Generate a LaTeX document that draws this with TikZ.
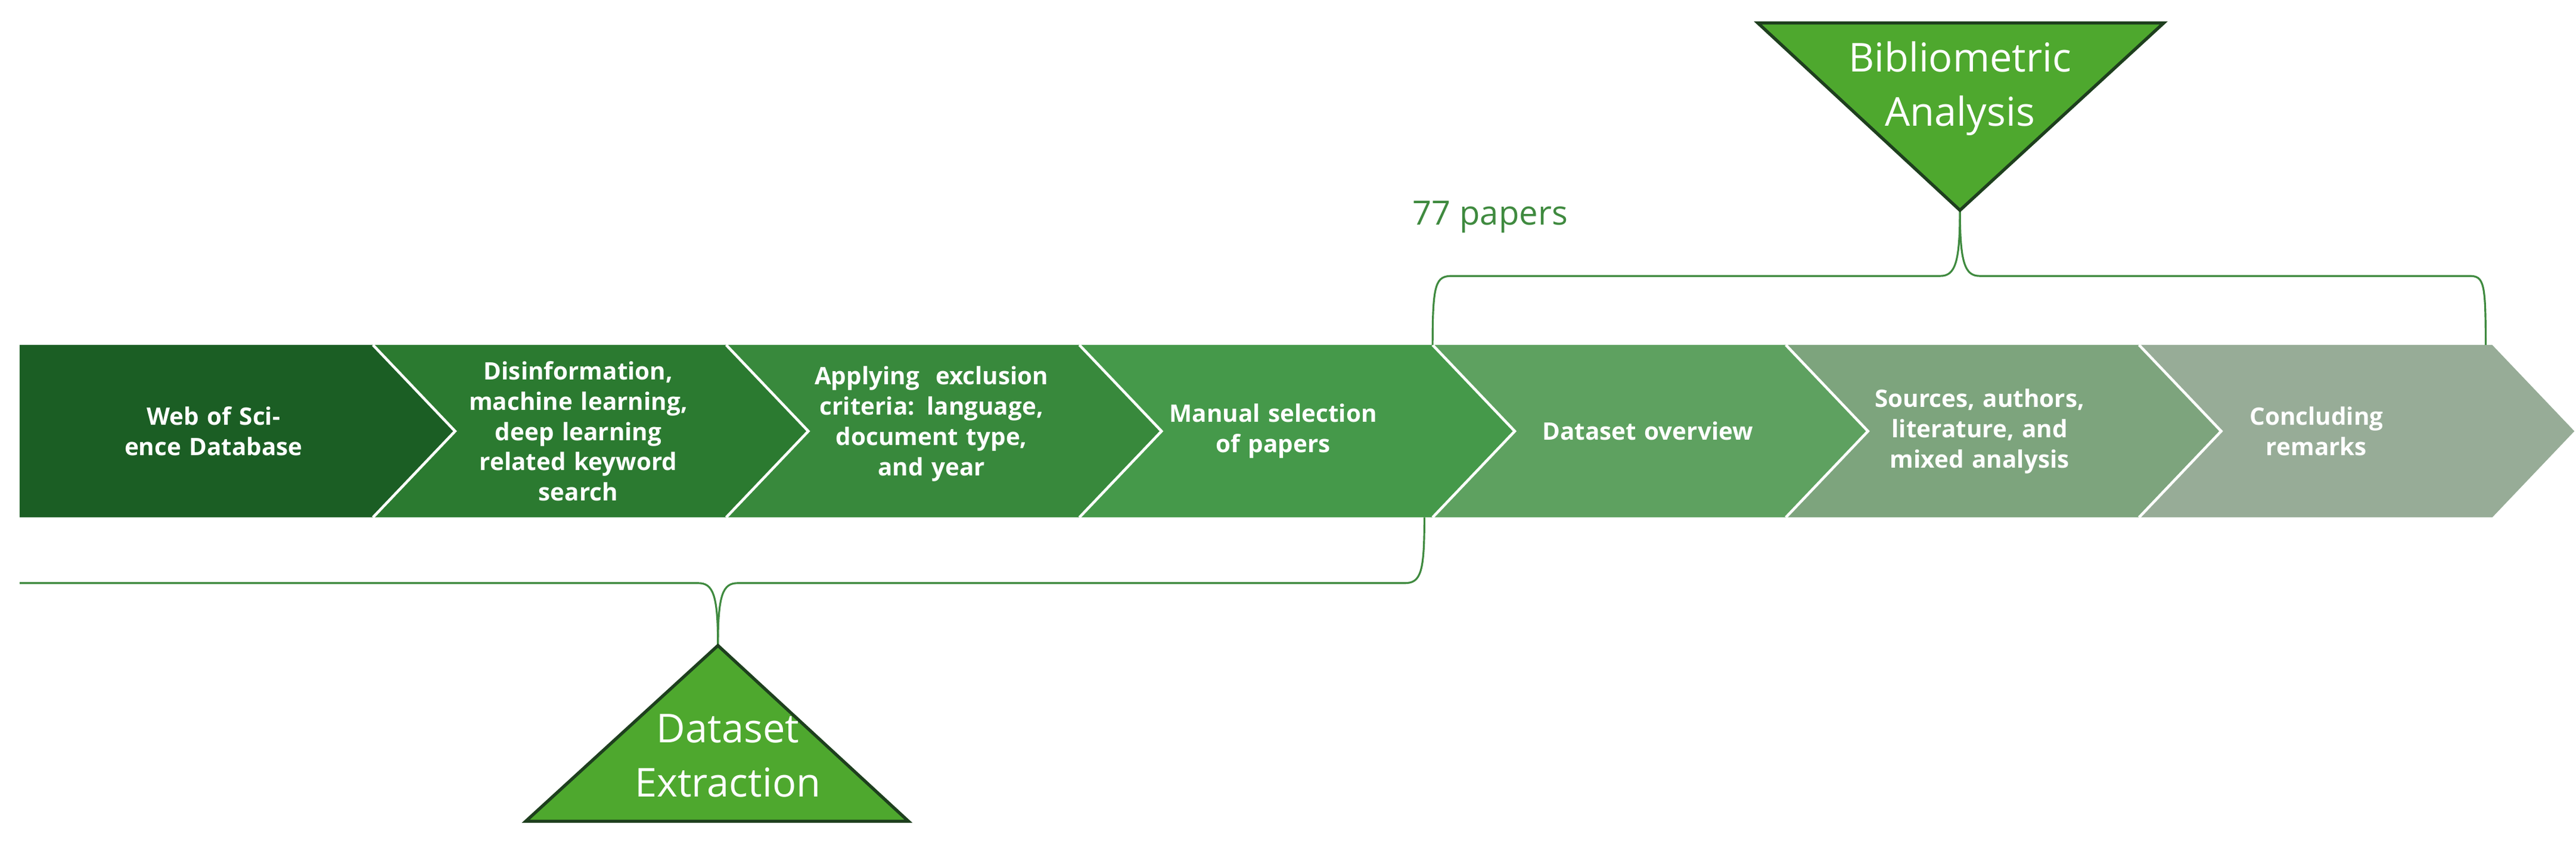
\documentclass[tikz,border=0pt]{standalone}
\usepackage{fontspec}
\setmainfont{Open Sans}
\definecolor{stepA}{HTML}{1B5E24}
\definecolor{stepB}{HTML}{2B7A30}
\definecolor{stepC}{HTML}{38893C}
\definecolor{stepD}{HTML}{45994A}
\definecolor{stepE}{HTML}{5EA160}
\definecolor{stepF}{HTML}{7DA47D}
\definecolor{stepG}{HTML}{97AC97}
\definecolor{triFill}{HTML}{4EA82E}
\definecolor{triLine}{HTML}{1E3F1E}
\definecolor{braceCol}{HTML}{3F8A3F}
\tikzset{
  step text/.style={text=white,font=\bfseries\fontsize{11.5}{14.5}\selectfont,align=center,text width=4.3cm},
  tri text/.style={text=white,font=\fontsize{19}{26}\selectfont,align=center},
  brace/.style={draw=braceCol,line width=0.9pt}
}
\begin{document}
\begin{tikzpicture}[x=0.02757cm,y=-0.02757cm]
\useasboundingbox (0,0) rectangle (1568,515);

% chevrons
\foreach \k/\col in {0/stepA,1/stepB,2/stepC,3/stepD,4/stepE,5/stepF,6/stepG}{
  \pgfmathsetmacro{\b}{12+215*\k}
  \ifnum\k=0
    \fill[\col] (\b,210) -- (\b+215,210) -- (\b+265,262.5) -- (\b+215,315) -- (\b,315) -- cycle;
  \else
    \fill[\col] (\b,210) -- (\b+215,210) -- (\b+265,262.5) -- (\b+215,315) -- (\b,315) -- (\b+50,262.5) -- cycle;
    \draw[white,line width=1.3pt] (\b,210) -- (\b+50,262.5) -- (\b,315);
  \fi
}

\node[step text] (wos) at (130,262.5) {Web of Science Database};
\node[step text] (kws) at (352,262.5) {Disinformation,\\machine learning,\\deep learning\\related keyword\\search};
\node[step text] (excl) at (567,258) {Applying~ exclusion\\criteria: language,\\document type,\\and year};
\node[step text] (manual) at (775,262.5) {Manual selection\\of papers};
\node[step text] (overview) at (1003,262.5) {Dataset overview};
\node[step text] (sources) at (1205,262.5) {Sources, authors,\\literature, and\\mixed analysis};
\node[step text] (concl) at (1410,262.5) {Concluding\\remarks};

% bottom brace
\draw[brace] (12,355) -- (425,355) .. controls (434,355) and (437,362) .. (437,393);
\draw[brace] (437,393) .. controls (437,362) and (440,355) .. (449,355) -- (855,355) .. controls (865,355) and (867,348) .. (867,315);

% top brace
\draw[brace] (872,210) .. controls (872,172) and (874,168) .. (884,168) -- (1181,168) .. controls (1190,168) and (1193,160) .. (1193,128);
\draw[brace] (1193,128) .. controls (1193,160) and (1196,168) .. (1205,168) -- (1503,168) .. controls (1512,168) and (1513,172) .. (1513,210);

% triangles
\draw[fill=triFill,draw=triLine,line width=1.5pt] (437,393) -- (553,500) -- (320,500) -- cycle;
\node[tri text] (extract) at (443,460) {Dataset\\Extraction};
\draw[fill=triFill,draw=triLine,line width=1.5pt] (1070,14) -- (1317,14) -- (1193,128) -- cycle;
\node[tri text] (biblio) at (1193,54) {Bibliometric\\Analysis};

\node[text=braceCol,font=\fontsize{16}{18}\selectfont] (papers) at (907,132) {77 papers};
\end{tikzpicture}
\end{document}
